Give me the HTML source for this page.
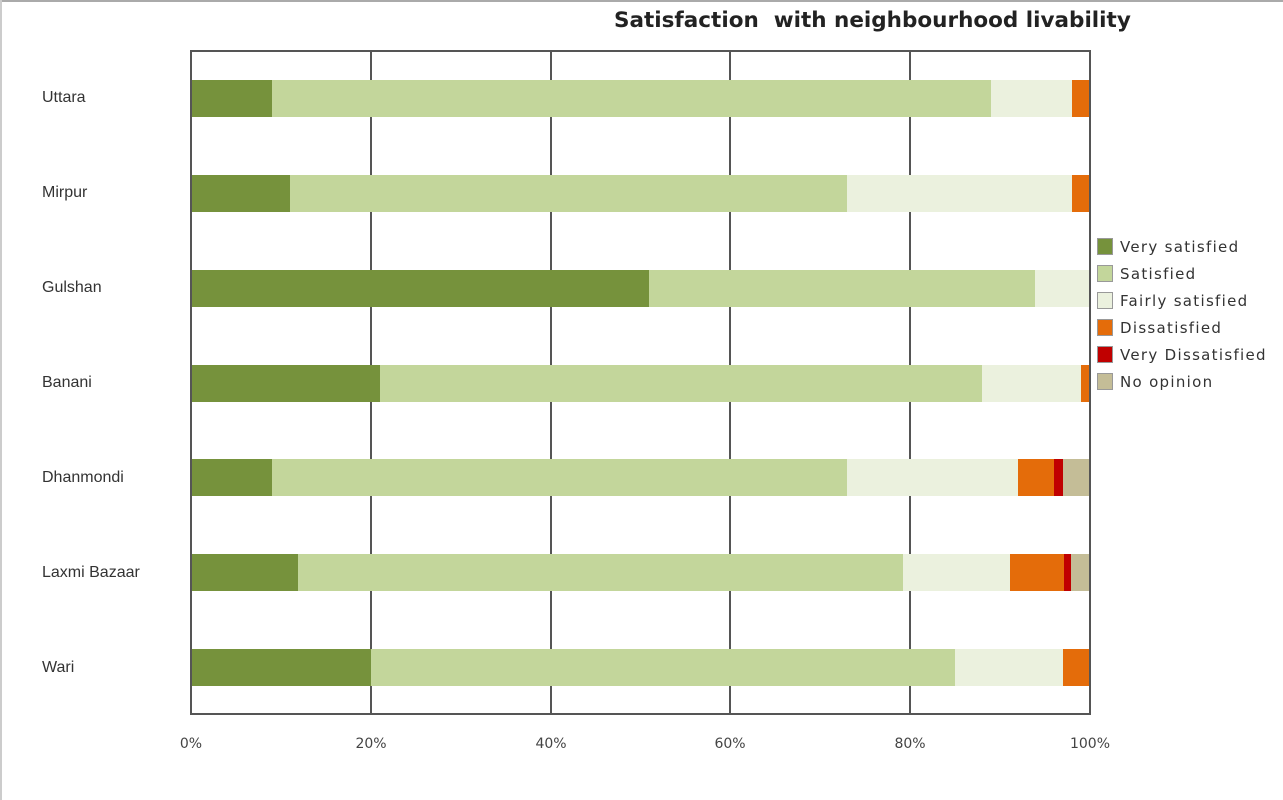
<!DOCTYPE html>
<html><head><style>
body{margin:0;width:1283px;height:800px;background:#fff;position:relative;overflow:hidden;font-family:"DejaVu Sans","Liberation Sans",sans-serif}
.a{position:absolute}
.g{position:absolute;top:50px;width:2px;height:665px;background:#555}
.b{position:absolute;height:37px}
.l{position:absolute;left:42px;font-family:"Liberation Sans",sans-serif;font-size:16px;color:#333}
.t{position:absolute;top:736px;font-size:14px;color:#444;width:60px;text-align:center}
.s{position:absolute;left:1097px;width:16px;height:17px;box-sizing:border-box;border:1px solid #999}
.lt{position:absolute;left:1120px;font-size:15px;color:#333;letter-spacing:1.3px}
</style></head><body>
<div class="a" style="left:0;top:0;width:1283px;height:2px;background:#aaa"></div>
<div class="a" style="left:0;top:0;width:2px;height:800px;background:#ccc"></div>
<div class="a" style="left:614px;top:8px;font-size:21.5px;font-weight:bold;color:#222;white-space:nowrap">Satisfaction&nbsp; with neighbourhood livability</div>
<div class="a" style="left:191px;top:50px;width:900px;height:2px;background:#555"></div>
<div class="a" style="left:191px;top:713px;width:900px;height:2px;background:#555"></div>
<div class="g" style="left:190px"></div><div class="g" style="left:370px"></div><div class="g" style="left:550px"></div><div class="g" style="left:729px"></div><div class="g" style="left:909px"></div><div class="g" style="left:1089px"></div>

<!-- Uttara -->
<div class="b" style="top:80px;left:192px;width:80px;background:#76923c"></div>
<div class="b" style="top:80px;left:272px;width:719px;background:#c3d69b"></div>
<div class="b" style="top:80px;left:991px;width:81px;background:#ebf1de"></div>
<div class="b" style="top:80px;left:1072px;width:17px;background:#e46c0a"></div>
<!-- Mirpur -->
<div class="b" style="top:175px;left:192px;width:98px;background:#76923c"></div>
<div class="b" style="top:175px;left:290px;width:557px;background:#c3d69b"></div>
<div class="b" style="top:175px;left:847px;width:225px;background:#ebf1de"></div>
<div class="b" style="top:175px;left:1072px;width:17px;background:#e46c0a"></div>
<!-- Gulshan -->
<div class="b" style="top:270px;left:192px;width:457px;background:#76923c"></div>
<div class="b" style="top:270px;left:649px;width:386px;background:#c3d69b"></div>
<div class="b" style="top:270px;left:1035px;width:54px;background:#ebf1de"></div>
<!-- Banani -->
<div class="b" style="top:365px;left:192px;width:188px;background:#76923c"></div>
<div class="b" style="top:365px;left:380px;width:602px;background:#c3d69b"></div>
<div class="b" style="top:365px;left:982px;width:99px;background:#ebf1de"></div>
<div class="b" style="top:365px;left:1081px;width:8px;background:#e46c0a"></div>
<!-- Dhanmondi -->
<div class="b" style="top:459px;left:192px;width:80px;background:#76923c"></div>
<div class="b" style="top:459px;left:272px;width:575px;background:#c3d69b"></div>
<div class="b" style="top:459px;left:847px;width:171px;background:#ebf1de"></div>
<div class="b" style="top:459px;left:1018px;width:36px;background:#e46c0a"></div>
<div class="b" style="top:459px;left:1054px;width:9px;background:#c00000"></div>
<div class="b" style="top:459px;left:1063px;width:26px;background:#c4bd97"></div>
<!-- Laxmi -->
<div class="b" style="top:554px;left:192px;width:106px;background:#76923c"></div>
<div class="b" style="top:554px;left:298px;width:605px;background:#c3d69b"></div>
<div class="b" style="top:554px;left:903px;width:107px;background:#ebf1de"></div>
<div class="b" style="top:554px;left:1010px;width:54px;background:#e46c0a"></div>
<div class="b" style="top:554px;left:1064px;width:7px;background:#c00000"></div>
<div class="b" style="top:554px;left:1071px;width:18px;background:#c4bd97"></div>
<!-- Wari -->
<div class="b" style="top:649px;left:192px;width:179px;background:#76923c"></div>
<div class="b" style="top:649px;left:371px;width:584px;background:#c3d69b"></div>
<div class="b" style="top:649px;left:955px;width:108px;background:#ebf1de"></div>
<div class="b" style="top:649px;left:1063px;width:26px;background:#e46c0a"></div>

<div class="l" style="top:89px">Uttara</div>
<div class="l" style="top:184px">Mirpur</div>
<div class="l" style="top:279px">Gulshan</div>
<div class="l" style="top:374px">Banani</div>
<div class="l" style="top:469px">Dhanmondi</div>
<div class="l" style="top:564px">Laxmi Bazaar</div>
<div class="l" style="top:659px">Wari</div>

<div class="t" style="left:161px">0%</div>
<div class="t" style="left:341px">20%</div>
<div class="t" style="left:521px">40%</div>
<div class="t" style="left:700px">60%</div>
<div class="t" style="left:880px">80%</div>
<div class="t" style="left:1060px">100%</div>

<div class="s" style="top:238px;background:#76923c"></div><div class="lt" style="top:238px">Very satisfied</div>
<div class="s" style="top:265px;background:#c3d69b"></div><div class="lt" style="top:265px">Satisfied</div>
<div class="s" style="top:292px;background:#ebf1de"></div><div class="lt" style="top:292px">Fairly satisfied</div>
<div class="s" style="top:319px;background:#e46c0a"></div><div class="lt" style="top:319px">Dissatisfied</div>
<div class="s" style="top:346px;background:#c00000"></div><div class="lt" style="top:346px">Very Dissatisfied</div>
<div class="s" style="top:373px;background:#c4bd97"></div><div class="lt" style="top:373px">No opinion</div>
</body></html>
